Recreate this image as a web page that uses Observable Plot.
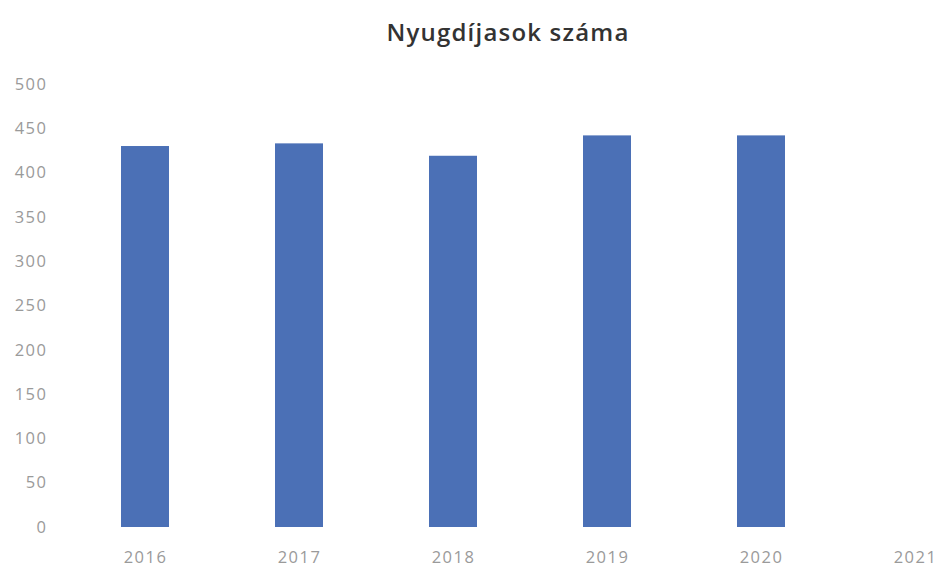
<!DOCTYPE html>
<html>
<head>
<meta charset="utf-8">
<script src="https://cdn.jsdelivr.net/npm/d3@7"></script>
<script src="https://cdn.jsdelivr.net/npm/@observablehq/plot@0.6"></script>
<style>
  html, body { margin: 0; padding: 0; background: #fff; }
  #wrap { width: 942px; height: 569px; position: relative; overflow: hidden; }
  #title { position: absolute; left: 0; width: 1016px; top: 15px; text-align: center;
    font-family: "Open Sans", sans-serif; font-weight: 600; font-size: 24px; letter-spacing: 1.2px; color: #333; }
  #chart { position: absolute; left: 0; top: 60px; }
</style>
</head>
<body>
<div id="wrap">
  <div id="title">Nyugdíjasok száma</div>
  <div id="chart"></div>
</div>
<script>
const years = ["2016", "2017", "2018", "2019", "2020", "2021"];
const pensioners = [430, 433, 419, 442, 442, null];
const yTicks = [0, 50, 100, 150, 200, 250, 300, 350, 400, 450, 500];

const data = years.map((y, i) => ({year: y, value: pensioners[i]}));

const chart = Plot.plot({
  width: 942,
  height: 509,
  marginLeft: 50,
  marginBottom: 42,
  marginTop: 0,
  marginRight: 0,
  style: {fontFamily: "Open Sans, sans-serif", fontSize: "16px", color: "#999", background: "#fff"},
  x: {domain: years, range: [15, 1045], padding: 0.688, label: null},
  y: {domain: [0, 500], range: [467, 24], label: null},
  marks: [
    Plot.barY(data.filter(d => d.value != null), {x: "year", y: "value", fill: "#4b70b6"}),
    Plot.axisY({ticks: yTicks, tickSize: 0, tickPadding: 3, label: null, fill: "#9a9a9a", fontSize: 16.5}),
    Plot.axisX({tickSize: 0, tickPadding: 24, label: null, fill: "#9a9a9a", fontSize: 16.5})
  ]
});
chart.querySelectorAll("text").forEach(t => t.style.letterSpacing = "1.5px");
document.getElementById("chart").appendChild(chart);
</script>
</body>
</html>
